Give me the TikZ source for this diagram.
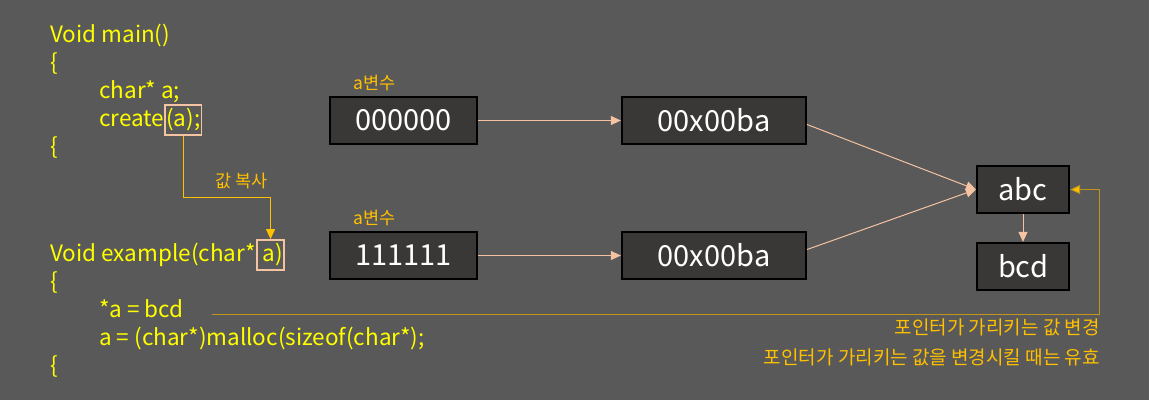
\documentclass[tikz,border=0pt]{standalone}
\usepackage{fontspec}
\setmainfont{Noto Sans CJK KR}
\usetikzlibrary{arrows.meta}
\definecolor{bg}{HTML}{595959}
\definecolor{boxfill}{HTML}{3A3836}
\definecolor{codeyel}{HTML}{FFFF00}
\definecolor{gold}{HTML}{FFC000}
\definecolor{darkgold}{HTML}{C0951A}
\definecolor{peach}{HTML}{F4C3A2}
\tikzset{
  memBox/.style={draw=black, line width=2.2pt, fill=boxfill, inner sep=0pt, text=white, font=\fontsize{29}{32}\selectfont},
  codeText/.style={anchor=base west, text=codeyel, inner sep=0pt, font=\fontsize{22.5}{26}\selectfont},
  hlBox/.style={draw=peach, line width=1.8pt, text height=19pt, text depth=7pt, inner xsep=1pt, inner ysep=2pt},
  varLabel/.style={anchor=base west, text=gold, inner sep=0pt, font=\fontsize{17.5}{20}\selectfont},
  noteText/.style={anchor=base east, text=gold, inner sep=0pt, font=\fontsize{19}{22}\selectfont},
  peachArrow/.style={draw=peach, line width=1pt, -{Triangle[length=10pt,width=9pt,fill=peach]}},
  goldArrow/.style={draw=gold, line width=1pt, -{Triangle[length=10pt,width=9pt,fill=gold]}},
}
\begin{document}
\begin{tikzpicture}[x=1pt,y=-1pt]
\fill[bg] (0,0) rectangle (1149,400);
\useasboundingbox (0,0) rectangle (1149,400);

% code text
\node[codeText] (l1) at (50,42) {Void main()};
\node[codeText] (l2) at (50,70) {\{};
\node[codeText] (l3) at (99,98) {char* a;};
\node[codeText] (l4) at (99,126) {create};
\node[codeText, hlBox] (h1) at (l4.base east) {(a);};
\node[codeText] (l5) at (50,154) {\{};
\node[codeText] (l6) at (50,261) {Void example(char*};
\node[codeText, hlBox] (h2) at (l6.base east) {\ a)};
\node[codeText] (l7) at (50,289) {\{};
\node[codeText] (l8) at (99,317) {*a = bcd};
\node[codeText] (l9) at (99,345) {a = (char*)malloc(sizeof(char*);};
\node[codeText] (l10) at (50,373) {\{};

% copy connector
\coordinate (k) at (270,197);
\draw[goldArrow] (h1.south) |- (k -| h2.north) -- (h2.north);
\node[anchor=base west, text=gold, inner sep=0pt, font=\fontsize{17.5}{20}\selectfont] (copyLbl) at (215,187) {값 복사};

% memory boxes
\node[varLabel] (v1) at (353,89) {a변수};
\node[varLabel] (v2) at (353,224) {a변수};
\node[memBox, minimum width=147pt, minimum height=47pt] (m1) at (403.5,120.5) {000000};
\node[memBox, minimum width=184pt, minimum height=47pt] (p1) at (714,120.5) {00x00ba};
\node[memBox, minimum width=147pt, minimum height=47pt] (m2) at (403.5,255.5) {111111};
\node[memBox, minimum width=184pt, minimum height=47pt] (p2) at (714,255.5) {00x00ba};
\node[memBox, minimum width=92pt, minimum height=47pt] (abc) at (1023,189.5) {abc};
\node[memBox, minimum width=92pt, minimum height=47pt] (bcd) at (1023,266.5) {bcd};

\draw[peachArrow] (m1.east) -- (p1.west);
\draw[peachArrow] (m2.east) -- (p2.west);
\draw[peachArrow] ([yshift=-4pt]p1.east) -- (abc.west);
\draw[peachArrow] ([yshift=6pt]p2.east) -- (abc.west);
\draw[peachArrow] (abc.south) -- (bcd.north);

% change connector
\coordinate (s) at (212,314);
\coordinate (t) at (1099,314);
\draw[draw=darkgold, line width=1pt, -{Triangle[length=10pt,width=9pt,fill=gold]}] (s) -- (t) |- (abc.east);
\node[noteText] (n1) at (1100,334) {포인터가 가리키는 값 변경};
\node[noteText] (n2) at (1100,364) {포인터가 가리키는 값을 변경시킬 때는 유효};
\end{tikzpicture}
\end{document}
